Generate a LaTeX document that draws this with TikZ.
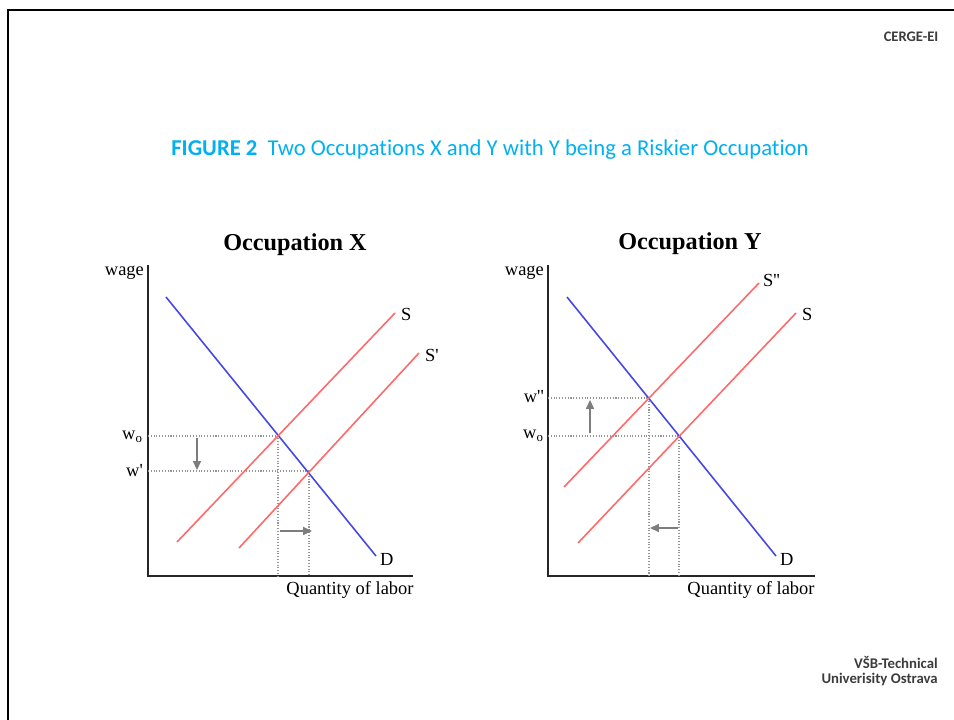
\documentclass[tikz,border=0pt]{standalone}
\usepackage{fontspec}
\setmainfont{Liberation Serif}
\newfontfamily\calibri[Ligatures=NoCommon]{Carlito}
\usetikzlibrary{arrows.meta,positioning,calc}
\definecolor{titlecyan}{RGB}{0,176,240}
\definecolor{demandblue}{RGB}{70,70,230}
\definecolor{supplyred}{RGB}{255,105,105}
\definecolor{guidegray}{RGB}{150,150,150}
\definecolor{arrowgray}{RGB}{125,125,125}
\definecolor{logogray}{RGB}{60,60,60}
\newcommand{\tick}{\textquotesingle}

\begin{document}
\begin{tikzpicture}[x=0.02cm,y=-0.02cm,font=\fontsize{10.5}{12}\selectfont]
\tikzset{axis/.style={draw=black!85,line width=0.9pt},
  dcurve/.style={demandblue,line width=0.9pt},
  scurve/.style={supplyred,line width=0.9pt},
  guideline/.style={guidegray,densely dotted,line width=0.6pt},
  shiftarrow/.style={arrowgray,line width=0.8pt,-{Triangle[length=5pt,width=4.5pt]}},
  ptitle/.style={font=\fontsize{13.8}{16}\selectfont\bfseries},
  lbl/.style={inner sep=1pt}}
\useasboundingbox (0,0) rectangle (954,720);
% frame
\draw[line width=1.6pt] (954,10) -- (8,10) -- (8,720);
\node[font=\calibri\fontsize{8.3}{9}\selectfont\bfseries,text=logogray] (cerge) at (911,37) {CERGE-EI};
\node[font=\calibri\fontsize{8.4}{8.4}\selectfont\bfseries,text=logogray,align=right,anchor=east,inner sep=0pt] (vsb) at (938,671)
  {V\v{S}B-Technical\\Univerisity Ostrava};
\node[font=\calibri\fontsize{12.9}{15}\selectfont,text=titlecyan] (title) at (490,150)
  {\textbf{FIGURE 2}\ \ Two Occupations X and Y with Y being a Riskier Occupation};

% Occupation X
\coordinate (xo) at (148,576);
\coordinate (xtop) at (148,265);
\coordinate (xright) at (413,576);
\node[ptitle] (titlex) at (295,245) {Occupation X};
\draw[axis] (xtop) -- (xo) -- (xright);
\node[lbl,anchor=east] (wagex) at (146,273) {wage};
\node[lbl,anchor=north] (qx) at (350,579) {Quantity of labor};
\coordinate (ex) at (278,436);
\coordinate (epx) at (309,471);
\draw[guideline] (xo |- ex) -- (ex) -- (ex |- xo);
\draw[guideline] (xo |- epx) -- (epx) -- (epx |- xo);
\draw[dcurve] (166,297) -- (376,556) coordinate (dx);
\draw[scurve] (177,542) -- (395,313) coordinate (sx);
\draw[scurve] (239,548) -- (419,353) coordinate (spx);
\node[lbl,anchor=west] at ($(dx)+(2,3)$) {D};
\node[lbl,anchor=west] at ($(sx)+(4,1)$) {S};
\node[lbl,anchor=west] at ($(spx)+(4,2)$) {S\tick};
\node[lbl,anchor=east] (w0x) at (145,437) {w$_\mathrm{o}$};
\node[lbl,anchor=east] (w1x) at (145,471) {w\tick};
\draw[shiftarrow] (197,438) -- (197,470);
\draw[shiftarrow] (280,531) -- (312,531);

% Occupation Y
\coordinate (yo) at (548,576);
\coordinate (ytop) at (548,265);
\coordinate (yright) at (815,576);
\node[ptitle] (titley) at (690,244) {Occupation Y};
\draw[axis] (ytop) -- (yo) -- (yright);
\node[lbl,anchor=east] (wagey) at (546,273) {wage};
\node[lbl,anchor=north] (qy) at (751,579) {Quantity of labor};
\coordinate (ey) at (679,436);
\coordinate (eppy) at (649,398);
\draw[guideline] (yo |- ey) -- (ey) -- (ey |- yo);
\draw[guideline] (yo |- eppy) -- (eppy) -- (eppy |- yo);
\draw[dcurve] (567,297) -- (776,556) coordinate (dy);
\draw[scurve] (564,487) -- (759,283) coordinate (sppy);
\draw[scurve] (578,543) -- (796,313) coordinate (sy);
\node[lbl,anchor=west] at ($(dy)+(2,3)$) {D};
\node[lbl,anchor=west] at ($(sy)+(4,1)$) {S};
\node[lbl,anchor=west] at ($(sppy)+(2,-3)$) {S\tick\tick};
\node[lbl,anchor=east] (w2y) at (546,397) {w\tick\tick};
\node[lbl,anchor=east] (w0y) at (546,436) {w$_\mathrm{o}$};
\draw[shiftarrow] (590,433) -- (590,400);
\draw[shiftarrow] (678,528) -- (650,528);
\end{tikzpicture}
\end{document}
